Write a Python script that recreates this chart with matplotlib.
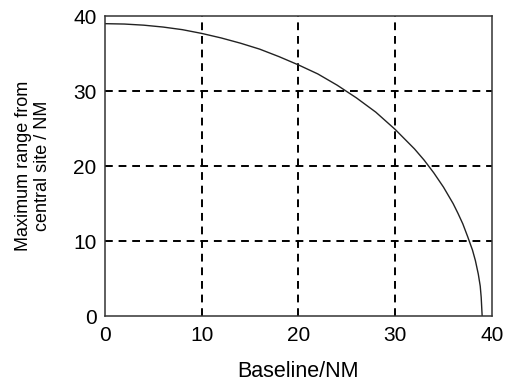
import matplotlib
matplotlib.use("Agg")
import matplotlib.pyplot as plt

# Maximum range from the central site versus baseline length (NM)
baseline_nm = [0, 2, 4, 6, 8, 10, 12, 14, 16, 18, 20, 22, 24, 26, 28, 30,
               31, 32, 33, 34, 35, 36, 36.5, 37, 37.5, 38, 38.3, 38.6, 38.8, 38.9, 39.0]
max_range_nm = [39.0, 38.95, 38.8, 38.55, 38.2, 37.7, 37.1, 36.4, 35.6, 34.6, 33.5,
                32.3, 30.8, 29.1, 27.2, 24.9, 23.6, 22.3, 20.8, 19.1, 17.2, 15.0,
                13.7, 12.3, 10.6, 8.8, 7.4, 5.6, 4.0, 2.5, 0.0]

x_ticks = [0, 10, 20, 30, 40]
y_ticks = [0, 10, 20, 30, 40]
grid_x = [10, 20, 30]
grid_y = [10, 20, 30]

plt.rcParams['font.family'] = ['Liberation Sans', 'DejaVu Sans']

fig = plt.figure(figsize=(5.06, 3.85), dpi=100)
ax = fig.add_axes([0.2075, 0.179, 0.7645, 0.779])

# dashed grid on the interior ticks only
for gx in grid_x:
    ax.axvline(gx, color='black', linestyle=(0, (4, 3)), linewidth=1.4, zorder=1)
for gy in grid_y:
    ax.axhline(gy, color='black', linestyle=(0, (4, 3)), linewidth=1.4, zorder=1)

ax.plot(baseline_nm, max_range_nm, color='#222222', linewidth=1.0, zorder=2)

ax.set_xlim(0, 40)
ax.set_ylim(0, 40)
ax.set_xticks(x_ticks)
ax.set_yticks(y_ticks)
ax.tick_params(length=0, labelsize=15)
ax.tick_params(axis='y', pad=6)
ax.tick_params(axis='x', pad=7)

for s in ax.spines.values():
    s.set_color('#333333')
    s.set_linewidth(1.1)

ax.set_xlabel('Baseline/NM', fontsize=15.5, labelpad=12)
ax.set_ylabel('Maximum range from\ncentral site / NM', fontsize=13, labelpad=16,
              linespacing=1.15)

fig.savefig('out.png', dpi=100)
